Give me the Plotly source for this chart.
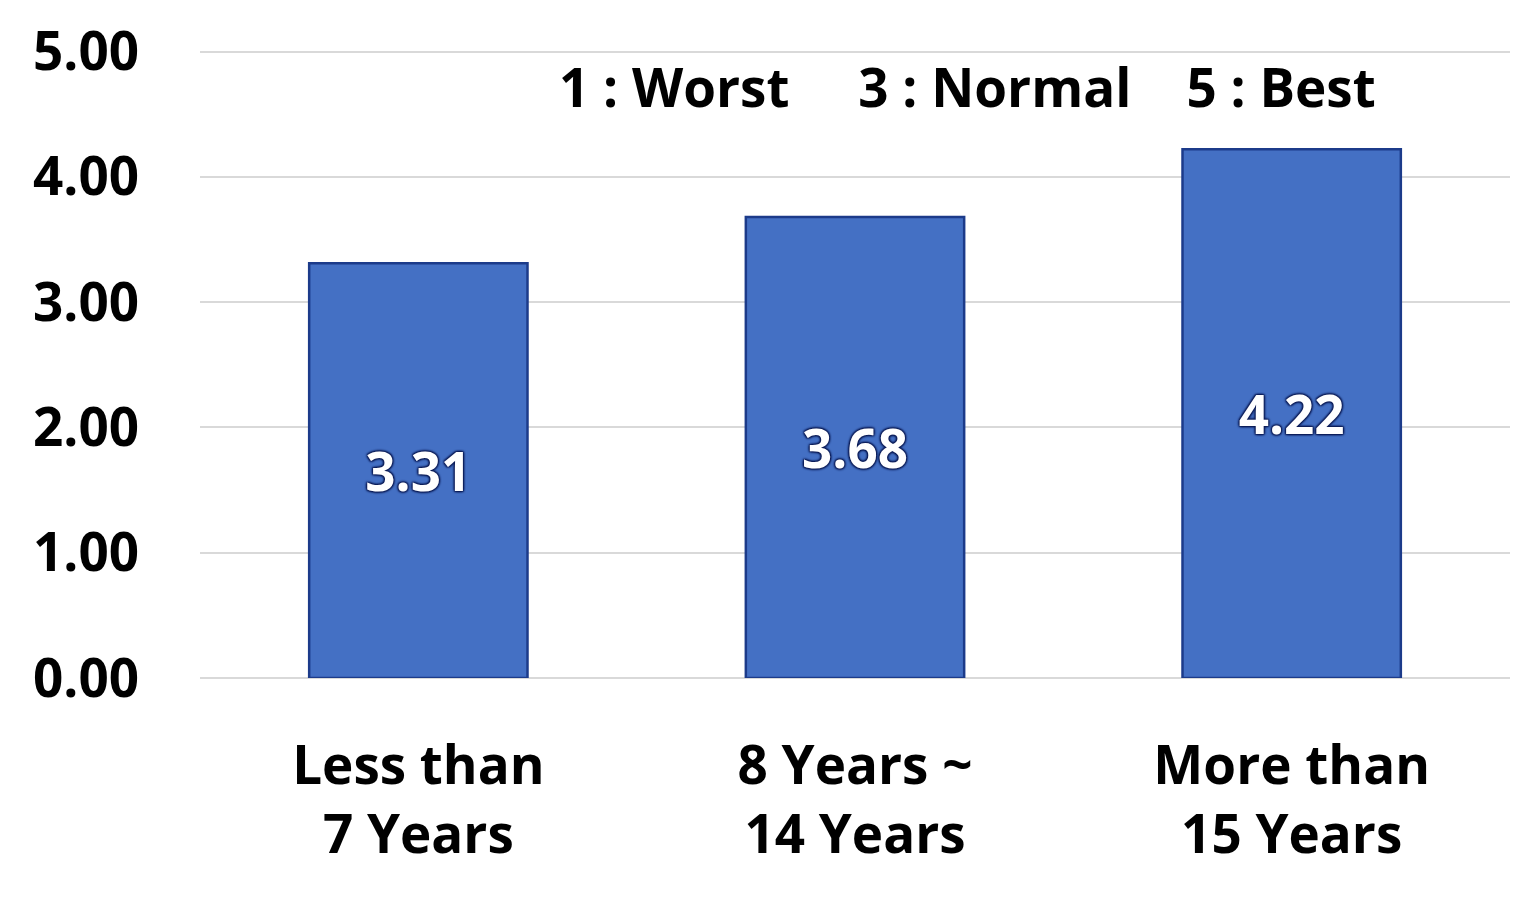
import plotly.graph_objects as go

categories = ["Less than<br>7 Years", "8 Years ~<br>14 Years", "More than<br>15 Years"]
values = [3.31, 3.68, 4.22]
value_labels = ["3.31", "3.68", "4.22"]
tick_vals = [0, 1, 2, 3, 4, 5]
tick_text = ["0.00", "1.00", "2.00", "3.00", "4.00", "5.00"]
note = ("1 : Worst" + "\u00a0" * 5 + "3 : Normal" + "\u00a0" * 4 + "5 : Best")

FONT = "'Open Sans', Lato, sans-serif"
SIZE = 53
halo = ("1px 1px 2px #0a1a55, -1px -1px 2px #0a1a55, "
        "1px -1px 2px #0a1a55, -1px 1px 2px #0a1a55")

fig = go.Figure()
fig.add_trace(go.Bar(
    x=categories,
    y=values,
    text=value_labels,
    textposition="inside",
    insidetextanchor="middle",
    textangle=0,
    textfont=dict(family=FONT, size=SIZE, color="white", weight="bold",
                  shadow=halo),
    marker=dict(color="#4470c4", line=dict(color="#1c3b8a", width=2.5)),
    width=0.5,
    hoverinfo="skip",
))

fig.update_layout(
    width=1539, height=900,
    margin=dict(l=192, r=37, t=41, b=230),
    paper_bgcolor="white", plot_bgcolor="white",
    showlegend=False,
    font=dict(family=FONT, color="black"),
    xaxis=dict(
        automargin=False,
        showgrid=False, showline=False, zeroline=False,
        tickfont=dict(family=FONT, size=SIZE, color="black", weight="bold"),
        ticks="", ticklabelstandoff=52,
    ),
    yaxis=dict(
        automargin=False,
        range=[0, 5.02], tickvals=tick_vals, ticktext=tick_text,
        showgrid=True, gridcolor="#d9d9d9", gridwidth=2,
        zeroline=True, zerolinecolor="#d9d9d9", zerolinewidth=2,
        showline=False, ticks="",
        tickfont=dict(family=FONT, size=SIZE, color="black", weight="bold"),
        ticklabelstandoff=60,
    ),
    annotations=[dict(
        text=note, xref="paper", yref="paper", x=0.586, y=0.941,
        xanchor="center", yanchor="middle", showarrow=False,
        font=dict(family=FONT, size=SIZE, color="black", weight="bold"),
    )],
)

fig.write_html("out.html")
